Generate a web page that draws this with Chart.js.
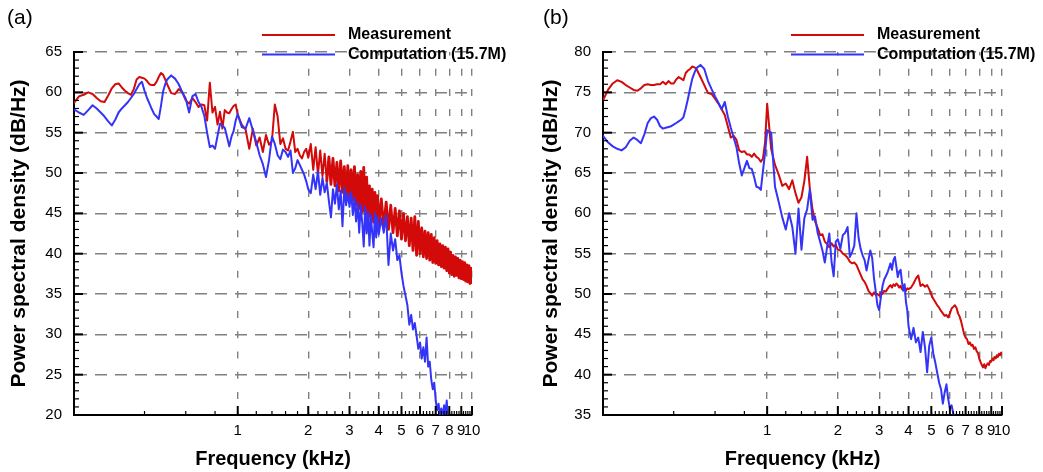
<!DOCTYPE html>
<html>
<head>
<meta charset="utf-8">
<script src="https://cdn.jsdelivr.net/npm/chart.js@4.4.1/dist/chart.umd.min.js"></script>
<style>
html, body { margin: 0; padding: 0; background: #fff; }
#wrap { position: relative; width: 1043px; height: 472px; overflow: hidden; }
canvas { position: absolute; top: 0; }
#cA { left: 0; }
#cB { left: 529px; }
</style>
</head>
<body>
<div id="wrap">
  <canvas id="cA" width="521" height="472"></canvas>
  <canvas id="cB" width="514" height="472"></canvas>
</div>
<script>
// frequency grid (kHz), shared by all four curves
const freqKHz = [
  0.20, 0.21, 0.22, 0.23, 0.24, 0.25, 0.26, 0.27, 0.28, 0.29,
  0.30, 0.31, 0.32, 0.33, 0.34, 0.35, 0.36, 0.37, 0.38, 0.39,
  0.40, 0.41, 0.42, 0.43, 0.44, 0.45, 0.46, 0.47, 0.48, 0.49,
  0.50, 0.52, 0.54, 0.56, 0.58, 0.60, 0.62, 0.64, 0.66, 0.68,
  0.70, 0.72, 0.74, 0.76, 0.78, 0.80, 0.82, 0.84, 0.86, 0.88,
  0.90, 0.92, 0.94, 0.96, 0.98, 1.00, 1.04, 1.08, 1.12, 1.16,
  1.20, 1.24, 1.28, 1.32, 1.36, 1.40, 1.44, 1.48, 1.52, 1.56,
  1.60, 1.64, 1.68, 1.72, 1.76, 1.80, 1.84, 1.88, 1.92, 1.96,
  2.00, 2.05, 2.10, 2.15, 2.20, 2.25, 2.30, 2.35, 2.40, 2.45,
  2.50, 2.55, 2.60, 2.65, 2.70, 2.75, 2.80, 2.85, 2.90, 2.95,
  3.00, 3.05, 3.10, 3.15, 3.20, 3.25, 3.30, 3.35, 3.40, 3.45,
  3.50, 3.55, 3.60, 3.65, 3.70, 3.75, 3.80, 3.85, 3.90, 3.95,
  4.00, 4.1, 4.2, 4.3, 4.4, 4.5, 4.6, 4.7, 4.8, 4.9,
  5.0, 5.1, 5.2, 5.3, 5.4, 5.5, 5.6, 5.7, 5.8, 5.9,
  6.0, 6.1, 6.2, 6.3, 6.4, 6.5, 6.6, 6.7, 6.8, 6.9,
  7.0, 7.1, 7.2, 7.3, 7.4, 7.5, 7.6, 7.7, 7.8, 7.9,
  8.0, 8.1, 8.2, 8.3, 8.4, 8.5, 8.6, 8.7, 8.8, 8.9,
  9.0, 9.1, 9.2, 9.3, 9.4, 9.5, 9.6, 9.7, 9.8, 9.9,
  10.0
]

// panel (a), dB/Hz
const measA = [
  58.7, 59.5, 59.7, 60.0, 59.8, 59.3, 58.9, 58.8, 59.6, 60.5,
  61.0, 61.1, 60.6, 60.2, 59.9, 59.7, 60.4, 61.6, 61.9, 61.8,
  61.7, 61.4, 61.0, 60.9, 60.9, 61.3, 61.9, 62.4, 62.2, 61.6,
  61.0, 59.9, 59.8, 60.4, 60.0, 59.0, 58.6, 59.3, 58.8, 58.2,
  58.5, 58.4, 56.5, 61.2, 57.5, 58.2, 56.0, 57.6, 55.5, 57.8,
  57.5, 57.4, 57.9, 58.3, 58.5, 57.2, 56.0, 55.4, 53.0, 55.5,
  53.4, 54.4, 52.6, 54.7, 53.5, 54.0, 58.5, 57.0, 53.6, 54.3,
  53.0, 52.8, 53.9, 55.1, 52.6, 53.0, 52.2, 51.8, 52.6, 53.0,
  51.9, 53.6, 50.4, 53.2, 49.8, 52.8, 49.6, 52.4, 49.0, 52.0,
  48.6, 51.8, 48.4, 51.3, 47.8, 51.5, 47.6, 50.8, 47.2, 50.9,
  46.8, 50.4, 46.6, 50.8, 46.0, 49.8, 45.6, 50.2, 45.2, 50.7,
  44.8, 49.5, 44.6, 48.4, 44.2, 48.0, 43.9, 47.6, 43.6, 47.2,
  43.5, 46.8, 43.2, 46.4, 43.0, 46.0, 42.6, 45.6, 42.2, 45.3,
  41.8, 45.0, 41.6, 44.6, 41.0, 44.4, 40.4, 44.6, 39.8, 44.0,
  40.0, 43.2, 39.6, 42.8, 39.4, 42.6, 39.2, 42.4, 38.9, 42.0,
  38.8, 41.6, 38.6, 41.2, 38.4, 41.0, 38.2, 40.8, 37.9, 40.6,
  37.6, 40.2, 37.4, 39.8, 37.2, 39.6, 37.3, 39.4, 37.0, 39.2,
  36.9, 39.0, 36.8, 38.9, 36.6, 38.6, 36.5, 38.5, 36.3, 38.2,
  36.4
]
const compA = [
  57.9, 57.5, 57.2, 57.8, 58.4, 58.0, 57.5, 57.0, 56.4, 55.9,
  56.6, 57.5, 58.0, 58.4, 58.8, 59.3, 59.8, 60.4, 61.0, 61.3,
  60.2, 59.3, 58.6, 57.9, 57.3, 57.0, 56.7, 58.3, 60.1, 61.0,
  61.6, 62.1, 61.7, 61.0, 60.0, 59.2, 57.5, 59.5, 59.8, 58.8,
  58.2, 57.1, 55.0, 53.2, 53.4, 53.0, 54.6, 56.1, 55.9, 55.6,
  54.5, 53.3, 54.5, 55.2, 56.5, 57.3, 55.7, 55.5, 56.8, 55.3,
  53.8, 52.2, 51.1, 49.5, 51.6, 54.5, 53.6, 52.2, 51.7, 52.9,
  52.6, 52.0, 52.8, 50.0, 50.6, 51.6, 51.0, 50.4, 49.8, 49.0,
  48.0, 47.5, 49.8, 48.0, 50.2, 47.3, 49.4, 47.6, 48.8, 46.5,
  44.5, 48.0, 46.2, 48.6, 45.5, 47.8, 43.4, 48.2, 46.0, 47.5,
  45.8, 47.6, 44.8, 46.9, 44.0, 46.3, 42.6, 46.0, 43.8, 40.9,
  45.8, 42.5, 45.2, 41.0, 44.8, 42.6, 40.8, 45.0, 42.0, 44.6,
  42.4, 44.4, 42.6, 44.8, 38.6, 42.5, 40.4, 41.8, 39.2, 39.8,
  37.6, 36.0, 34.8, 33.6, 31.2, 32.4, 30.6, 31.4, 29.8, 28.2,
  29.0, 27.0, 28.4, 26.6, 29.6, 26.0, 26.6, 24.4, 23.2, 24.0,
  21.8, 20.6, 21.4, 20.0, 20.8, 19.6, 21.2, 20.2, 21.8, 19.4,
  18.5, null, null, null, null, null, null, null, null, null,
  null, null, null, null, null, null, null, null, null, null,
  null
]

// panel (b), dB/Hz
const measB = [
  74.0, 75.3, 76.1, 76.5, 76.3, 75.9, 75.6, 75.3, 75.2, 75.5,
  75.9, 76.0, 75.9, 75.9, 76.0, 76.0, 76.3, 76.0, 76.4, 76.1,
  76.1, 76.6, 76.9, 76.7, 76.5, 77.4, 77.7, 77.9, 78.2, 78.1,
  77.9, 76.9, 75.9, 74.9, 74.8, 74.2, 73.6, 72.9, 72.2, 70.8,
  69.4, 69.6, 69.1, 67.8, 67.6, 67.7, 67.3, 67.3, 67.0, 67.4,
  67.0, 66.8, 66.4, 66.8, 68.8, 73.6, 68.0, 66.0, 64.8, 63.4,
  63.7, 63.0, 64.1, 62.5, 61.3, 62.0, 64.0, 67.0, 63.0, 60.5,
  59.0, 58.2, 57.3, 57.4, 56.5, 56.2, 55.8, 56.3, 55.9, 56.1,
  55.5, 55.4, 55.0, 54.8, 54.5, 54.0, 53.8, 53.9, 53.6, 53.0,
  52.4, 51.8, 51.5, 51.0, 50.4, 50.1, 49.8, 50.2, 49.9, 50.0,
  49.8, 50.2, 50.0, 50.4, 50.3, 50.6, 50.9, 51.1, 50.8, 51.2,
  51.0, 51.3, 51.1, 50.8, 51.0, 50.6, 50.5, 50.8, 50.4, 50.7,
  50.6, 50.8, 51.3, 51.9, 52.3, 51.0, 51.2, 50.9, 51.1, 50.6,
  49.9, 49.4, 49.0, 48.6, 48.3, 47.9, 47.6, 47.3, 47.4, 47.1,
  47.6, 48.2, 48.4, 48.6, 48.3, 47.6, 47.2, 46.6, 45.8, 45.0,
  44.6, 44.4, 43.8, 44.0, 43.6, 43.7, 43.2, 43.4, 42.9, 42.7,
  42.0, 41.6, 41.2, 40.9, 41.3, 40.8, 41.2, 41.4, 41.2, 41.7,
  41.6, 42.0, 41.8, 42.2, 42.0, 42.4, 42.2, 42.6, 42.4, 42.7,
  42.5
]
const compB = [
  69.6, 68.8, 68.3, 68.0, 67.8, 68.2, 69.0, 69.4, 69.1, 68.7,
  69.8, 71.2, 71.8, 72.0, 71.6, 70.8, 70.5, 70.6, 70.7, 70.8,
  71.0, 71.2, 71.4, 71.6, 71.9, 73.0, 74.2, 75.5, 76.7, 77.4,
  78.0, 78.4, 77.9, 76.4, 75.4, 74.5, 73.7, 72.9, 73.8, 72.0,
  70.6, 69.4, 68.2, 66.2, 64.7, 65.6, 66.5, 65.6, 65.5, 64.5,
  63.3, 63.2, 62.9, 65.3, 67.5, 70.3, 70.0, 63.3, 61.4, 59.5,
  58.0, 60.0, 58.3, 55.0, 60.6, 55.5, 59.4, 60.5, 63.0, 59.2,
  59.6, 57.6, 56.5, 55.4, 53.9, 55.8, 57.5, 54.0, 52.2, 56.5,
  56.8, 55.6, 57.3, 57.6, 58.3, 54.6, 55.2, 56.0, 60.0, 57.0,
  55.6, 54.8, 54.2, 52.9, 54.2, 55.4, 54.5, 52.0, 50.3, 48.6,
  48.0, 49.6, 51.0, 51.8, 52.2, 52.6, 53.2, 53.8, 53.0, 54.2,
  54.6, 53.4, 52.1, 52.8, 53.0, 51.5, 50.4, 51.2, 49.0, 48.0,
  46.0, 44.4, 45.8, 44.0, 44.6, 42.8, 45.3, 43.4, 40.3, 43.6,
  44.6, 42.6, 41.5, 40.2, 39.0, 38.2, 36.4, 37.8, 38.8, 37.0,
  35.8, 36.2, 35.2, 34.6, null, null, null, null, null, null,
  null, null, null, null, null, null, null, null, null, null,
  null, null, null, null, null, null, null, null, null, null,
  null, null, null, null, null, null, null, null, null, null,
  null
]

const seriesNames = ["Measurement", "Computation (15.7M)"]
const freqTicks = [1, 2, 3, 4, 5, 6, 7, 8, 9, 10]

const FONT = "'Liberation Sans', Arial, Helvetica, sans-serif"
const RED = '#d20a0a'
const BLUE = '#3434f8'
const GRID = '#808080'

function points(values) {
  return freqKHz.map((f, i) => ({ x: f, y: values[i] }))
}

// inward ticks, legend and panel letter
const decor = {
  id: 'decor',
  afterDraw(chart, args, opts) {
    const ctx = chart.ctx
    const area = chart.chartArea
    const xs = chart.scales.x
    const ys = chart.scales.y
    ctx.save()
    ctx.strokeStyle = '#000'
    for (let v = ys.min; v <= ys.max; v++) {
      const y = ys.getPixelForValue(v)
      const major = v % 5 === 0
      ctx.lineWidth = major ? 2 : 1.2
      ctx.beginPath()
      ctx.moveTo(area.left, y)
      ctx.lineTo(area.left + (major ? 9 : 5), y)
      ctx.stroke()
    }
    for (let k = 1; k <= 50; k++) {
      const x = xs.getPixelForValue(k / 5)
      const major = k % 5 === 0
      ctx.lineWidth = major ? 2 : 1.2
      ctx.beginPath()
      ctx.moveTo(x, area.bottom)
      ctx.lineTo(x, area.bottom - (major ? 9 : 4))
      ctx.stroke()
    }

    ctx.font = 'bold 16px ' + FONT
    ctx.textBaseline = 'middle'
    ctx.textAlign = 'left'
    chart.data.datasets.forEach((ds, i) => {
      const y = opts.legendY + i * 19.5
      ctx.strokeStyle = ds.borderColor
      ctx.lineWidth = 2
      ctx.beginPath()
      ctx.moveTo(opts.legendX, y)
      ctx.lineTo(opts.legendX + 73, y)
      ctx.stroke()
      ctx.fillStyle = '#000'
      ctx.fillText(ds.label, opts.legendX + 86, y)
    })

    ctx.font = '21px ' + FONT
    ctx.fillText(opts.label, opts.labelX, 18)
    ctx.restore()
  }
}

function makePanel(id, meas, comp, yMin, yMax, padRight, titlePad, denseFrom, label, labelX) {
  return new Chart(document.getElementById(id), {
    type: 'line',
    data: {
      datasets: [
        {
          label: seriesNames[0], data: points(meas), borderColor: RED, borderWidth: 2, order: 1,
          segment: { borderWidth: c => c.p0.parsed.x >= denseFrom ? 2.8 : 2 }
        },
        { label: seriesNames[1], data: points(comp), borderColor: BLUE, borderWidth: 2, order: 0 }
      ]
    },
    options: {
      responsive: false,
      animation: false,
      devicePixelRatio: 1,
      elements: {
        point: { radius: 0 },
        line: { tension: 0, borderJoinStyle: 'round', borderCapStyle: 'round' }
      },
      layout: { padding: { top: 52, right: padRight, left: 0, bottom: 0 } },
      plugins: {
        legend: { display: false },
        tooltip: { enabled: false },
        decor: { legendX: 262, legendY: 35, label: label, labelX: labelX }
      },
      scales: {
        x: {
          type: 'logarithmic',
          min: 0.2,
          max: 10,
          afterBuildTicks: s => { s.ticks = freqTicks.map(v => ({ value: v })) },
          afterFit: s => { s.height = 57 },
          ticks: {
            autoSkip: false, maxRotation: 0, padding: 7, color: '#000',
            font: { family: FONT, size: 15 },
            callback: v => String(v)
          },
          grid: { color: GRID, lineWidth: 1.4, drawTicks: false },
          border: { color: '#000', width: 2, dash: [7, 13.2], dashOffset: 3.5 },
          title: {
            display: true, text: 'Frequency (kHz)', color: '#000',
            font: { family: FONT, size: 20, weight: 'bold' },
            padding: { top: 0, bottom: 1 }
          }
        },
        y: {
          min: yMin,
          max: yMax,
          afterFit: s => { s.width = 74 },
          ticks: {
            stepSize: 5, padding: 12, color: '#000',
            font: { family: FONT, size: 15 }
          },
          grid: {
            color: c => (c.tick && c.tick.value === yMin) ? 'rgba(0,0,0,0)' : GRID,
            lineWidth: 1.4, drawTicks: false
          },
          border: { color: '#000', width: 2, dash: [12, 8] },
          title: {
            display: true, text: 'Power spectral density (dB/Hz)', color: '#000',
            font: { family: FONT, size: 21, weight: 'bold' },
            padding: { top: titlePad, bottom: 0 }
          }
        }
      }
    },
    plugins: [decor]
  })
}

makePanel('cA', measA, compA, 20, 65, 49, 7, 2.4, '(a)', 7)
makePanel('cB', measB, compB, 35, 80, 41, 10, 100, '(b)', 14)
</script>
</body>
</html>
